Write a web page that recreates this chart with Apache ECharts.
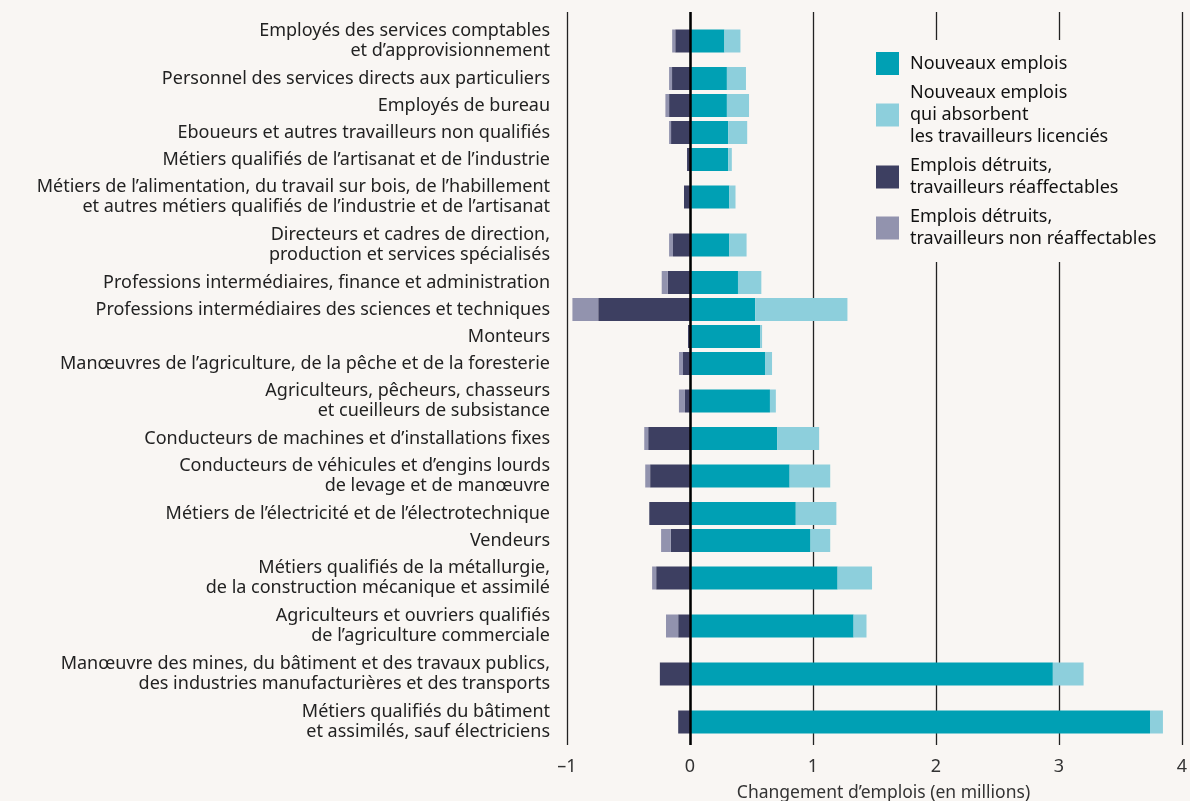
<!DOCTYPE html>
<html>
<head>
<meta charset="utf-8">
<script src="https://cdn.jsdelivr.net/npm/echarts@6/dist/echarts.min.js"></script>
<style>
  html, body { margin: 0; padding: 0; background: #f9f6f3; }
  #container { width: 1190px; height: 801px; }
</style>
</head>
<body>
<div id="container"></div>
<script>
// professions, du haut vers le bas
var categories = [
  'Employés des services comptables\net d’approvisionnement',
  'Personnel des services directs aux particuliers',
  'Employés de bureau',
  'Eboueurs et autres travailleurs non qualifiés',
  'Métiers qualifiés de l’artisanat et de l’industrie',
  'Métiers de l’alimentation, du travail sur bois, de l’habillement\net autres métiers qualifiés de l’industrie et de l’artisanat',
  'Directeurs et cadres de direction,\nproduction et services spécialisés',
  'Professions intermédiaires, finance et administration',
  'Professions intermédiaires des sciences et techniques',
  'Monteurs',
  'Manœuvres de l’agriculture, de la pêche et de la foresterie',
  'Agriculteurs, pêcheurs, chasseurs\net cueilleurs de subsistance',
  'Conducteurs de machines et d’installations fixes',
  'Conducteurs de véhicules et d’engins lourds\nde levage et de manœuvre',
  'Métiers de l’électricité et de l’électrotechnique',
  'Vendeurs',
  'Métiers qualifiés de la métallurgie,\nde la construction mécanique et assimilé',
  'Agriculteurs et ouvriers qualifiés\nde l’agriculture commerciale',
  'Manœuvre des mines, du bâtiment et des travaux publics,\ndes industries manufacturières et des transports',
  'Métiers qualifiés du bâtiment\net assimilés, sauf électriciens'
];

// en millions d'emplois
var nouveaux = [0.28, 0.30, 0.30, 0.31, 0.31, 0.32, 0.32, 0.39, 0.53, 0.57, 0.61, 0.65, 0.71, 0.81, 0.86, 0.98, 1.20, 1.33, 2.95, 3.74];
var absorbes = [0.13, 0.155, 0.18, 0.155, 0.03, 0.05, 0.14, 0.19, 0.75, 0.016, 0.057, 0.048, 0.34, 0.33, 0.33, 0.16, 0.28, 0.105, 0.25, 0.105];
var reaffectables = [-0.12, -0.146, -0.17, -0.154, -0.024, -0.049, -0.138, -0.18, -0.746, -0.016, -0.057, -0.041, -0.34, -0.324, -0.331, -0.156, -0.275, -0.096, -0.245, -0.096];
var nonReaffectables = [-0.025, -0.024, -0.03, -0.016, 0, 0, -0.032, -0.05, -0.21, 0, -0.032, -0.049, -0.032, -0.04, 0, -0.079, -0.033, -0.099, 0, 0];

var xTicks = [-1, 0, 1, 2, 3, 4];

var seriesNames = [
  'Nouveaux emplois',
  'Nouveaux emplois\nqui absorbent\nles travailleurs licenciés',
  'Emplois détruits,\ntravailleurs réaffectables',
  'Emplois détruits,\ntravailleurs non réaffectables'
];
var colors = ['#00a0b4', '#8dcfdc', '#3d3f61', '#9293ae'];

// hauteur de ligne : une ligne de libellé = 27, deux lignes = 48
var rowH1 = 27, rowH2 = 48, barH = 23;
var rowPos = [];
var acc = 0;
categories.forEach(function (c) {
  var h = c.indexOf('\n') >= 0 ? rowH2 : rowH1;
  rowPos.push(acc + h / 2);
  acc += h;
});

function rows(startArr, endArr) {
  return categories.map(function (c, i) {
    return [rowPos[i], startArr(i), endArr(i)];
  });
}

var dataNouveaux = rows(function () { return 0; }, function (i) { return nouveaux[i]; });
var dataAbsorbes = rows(function (i) { return nouveaux[i]; }, function (i) { return nouveaux[i] + absorbes[i]; });
var dataReaff = rows(function (i) { return reaffectables[i]; }, function () { return 0; });
var dataNonReaff = rows(function (i) { return reaffectables[i] + nonReaffectables[i]; }, function (i) { return reaffectables[i]; });

function renderBar(params, api) {
  var y = api.value(0);
  var p0 = api.coord([api.value(1), y]);
  var p1 = api.coord([api.value(2), y]);
  var w = Math.abs(p1[0] - p0[0]);
  if (w < 0.01) return null;
  return {
    type: 'rect',
    shape: { x: Math.min(p0[0], p1[0]), y: p0[1] - barH / 2, width: w, height: barH },
    style: { fill: api.visual('color') }
  };
}

function barSeries(idx, data) {
  var s = {
    name: seriesNames[idx],
    type: 'custom',
    renderItem: renderBar,
    itemStyle: { color: colors[idx] },
    encode: { x: [1, 2], y: 0 },
    data: data,
    silent: true
  };
  return s;
}

var font = '"Noto Sans", sans-serif';

var dom = document.getElementById('container');
var myChart = echarts.init(dom);
var option = {
  backgroundColor: '#f9f6f3',
  animation: false,
  textStyle: { fontFamily: font },
  grid: { left: 567, right: 8, top: 12, bottom: 56, outerBoundsMode: 'none', containLabel: false },
  legend: {
    orient: 'vertical',
    left: 864,
    top: 40,
    padding: [12, 10, 12, 12],
    backgroundColor: '#f9f6f3',
    itemWidth: 23,
    itemHeight: 23,
    itemGap: 7,
    icon: 'rect',
    data: seriesNames,
    textStyle: { fontFamily: font, fontSize: 18, lineHeight: 22, color: '#111', padding: [0, 0, 0, 6] }
  },
  xAxis: {
    type: 'value',
    min: -1,
    max: 4,
    interval: 1,
    axisLine: { show: false },
    axisTick: { show: false },
    splitLine: { show: true, lineStyle: { color: '#222', width: 1.3 } },
    axisLabel: {
      fontFamily: font,
      fontSize: 18,
      color: '#333',
      margin: 13,
      formatter: function (v) { return v < 0 ? '–' + Math.abs(v) : String(v); }
    },
    name: 'Changement d’emplois (en millions)',
    nameLocation: 'middle',
    nameGap: 39,
    nameTextStyle: { fontFamily: font, fontSize: 17.5, color: '#333', padding: [0, 0, 0, 18] }
  },
  yAxis: {
    type: 'value',
    inverse: true,
    min: -5,
    max: acc - 1,
    axisLine: { show: false },
    axisTick: { show: false },
    splitLine: { show: false },
    axisLabel: {
      customValues: rowPos,
      margin: 17,
      fontFamily: font,
      fontSize: 18,
      lineHeight: 20,
      color: '#222',
      formatter: function (v) {
        for (var i = 0; i < rowPos.length; i++) {
          if (Math.abs(rowPos[i] - v) < 0.01) return categories[i];
        }
        return '';
      }
    }
  },
  series: [
    barSeries(0, dataNouveaux),
    barSeries(1, dataAbsorbes),
    barSeries(2, dataReaff),
    barSeries(3, dataNonReaff)
  ]
};
// ligne du zéro au-dessus des barres
option.series[0].markLine = {
  silent: true,
  symbol: 'none',
  label: { show: false },
  lineStyle: { color: '#000', width: 2.5, type: 'solid' },
  data: [{ xAxis: 0 }]
};

if (option && typeof option === 'object') {
  myChart.setOption(option, true);
}
</script>
</body>
</html>
